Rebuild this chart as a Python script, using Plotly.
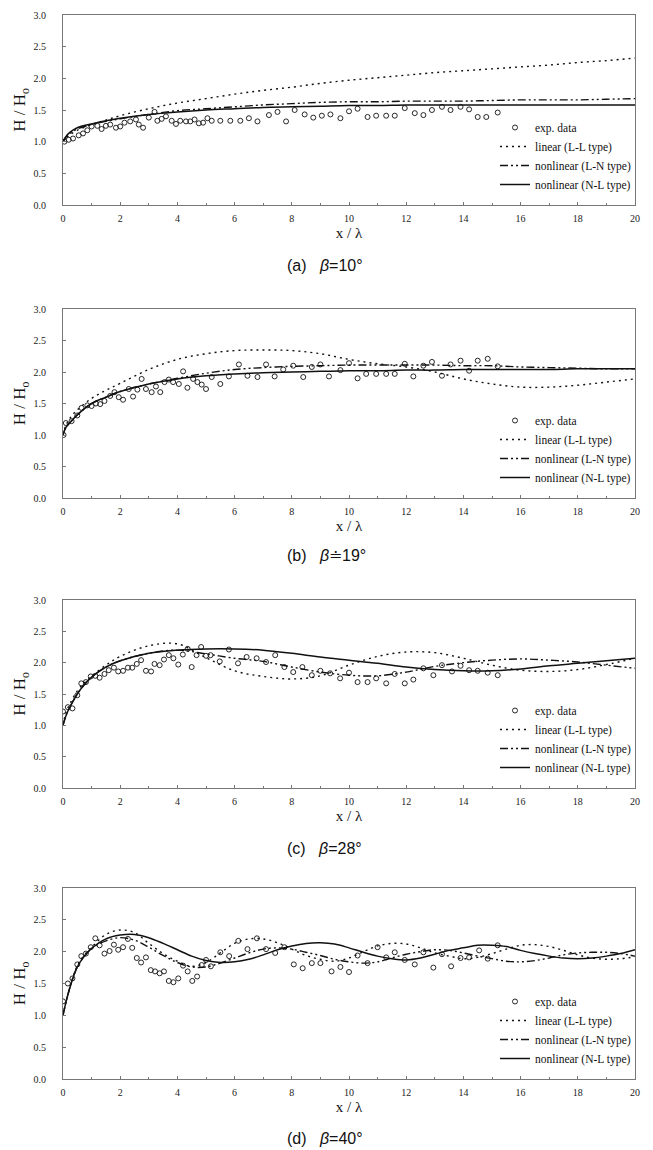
import plotly.graph_objects as go

# ---------------- data ----------------
# panel (a) beta = 10 deg
xa_exp = [0.05,0.2,0.35,0.55,0.7,0.85,1.0,1.2,1.35,1.5,
          1.65,1.85,2.0,2.15,2.35,2.55,2.65,2.8,3.0,3.2,
          3.3,3.45,3.6,3.8,3.95,4.1,4.3,4.45,4.6,4.75,
          4.9,5.05,5.2,5.5,5.85,6.2,6.5,6.8,7.2,7.5,
          7.8,8.1,8.45,8.75,9.05,9.35,9.7,10.0,10.3,10.65,
          10.95,11.3,11.6,11.95,12.3,12.6,12.9,13.25,13.55,13.9,
          14.2,14.5,14.8,15.2]
ya_exp = [1.0,1.03,1.05,1.1,1.13,1.18,1.24,1.25,1.2,1.25,
          1.27,1.22,1.24,1.3,1.32,1.35,1.27,1.22,1.38,1.47,
          1.33,1.36,1.4,1.33,1.28,1.33,1.32,1.32,1.35,1.29,
          1.3,1.37,1.33,1.33,1.33,1.33,1.37,1.32,1.42,1.47,
          1.32,1.5,1.43,1.38,1.41,1.43,1.37,1.48,1.52,1.39,
          1.41,1.41,1.41,1.53,1.45,1.42,1.5,1.55,1.5,1.55,
          1.51,1.39,1.39,1.46]
xa_mod = [0,0.1,0.25,0.5,1,1.5,2,3,4,5,6,7,8,9,10,11,12,13,14,15,16,17,18,19,20]
ya_LL = [1.0,1.05,1.11,1.18,1.27,1.34,1.41,1.52,1.61,1.68,1.75,1.81,1.86,1.92,1.97,2.01,2.05,2.09,2.12,2.15,2.18,2.21,2.25,2.28,2.32]
ya_LN = [1.0,1.07,1.13,1.2,1.27,1.32,1.36,1.43,1.49,1.52,1.55,1.58,1.6,1.62,1.63,1.63,1.64,1.64,1.64,1.65,1.66,1.66,1.66,1.67,1.68]
ya_NL = [1.0,1.08,1.15,1.22,1.28,1.33,1.37,1.43,1.47,1.5,1.52,1.54,1.55,1.56,1.57,1.57,1.58,1.58,1.58,1.58,1.58,1.58,1.58,1.58,1.58]

# panel (b) beta = 19 deg
xb_exp = [0.02,0.1,0.3,0.5,0.65,0.85,1.0,1.15,1.3,1.45,
          1.65,1.8,1.95,2.1,2.3,2.45,2.6,2.75,2.9,3.1,
          3.25,3.4,3.55,3.7,3.85,4.05,4.2,4.35,4.55,4.7,
          4.85,5.0,5.2,5.5,5.8,6.15,6.45,6.8,7.1,7.4,
          7.7,8.05,8.4,8.7,9.0,9.3,9.7,10.0,10.3,10.6,
          10.95,11.3,11.6,11.95,12.25,12.6,12.9,13.25,13.55,13.9,
          14.2,14.5,14.85,15.2]
yb_exp = [1.0,1.19,1.22,1.31,1.43,1.47,1.46,1.5,1.49,1.54,
          1.62,1.68,1.6,1.56,1.73,1.61,1.72,1.89,1.73,1.68,
          1.77,1.68,1.84,1.88,1.84,1.81,2.01,1.75,1.89,1.84,
          1.8,1.73,1.92,1.81,1.93,2.12,1.94,1.92,2.12,1.93,
          2.04,2.1,1.92,2.08,2.12,1.93,2.03,2.14,1.9,1.97,
          1.97,1.97,1.97,2.13,1.93,2.1,2.16,1.94,2.12,2.18,
          2.02,2.18,2.21,2.09]
xb_mod = [0,0.1,0.25,0.5,1,1.5,2,3,4,5,6,7,8,9,10,11,12,13,14,15,16,17,18,19,20]
yb_LL = [1.0,1.15,1.27,1.4,1.58,1.71,1.82,2.04,2.2,2.29,2.34,2.35,2.34,2.29,2.2,2.13,2.08,2.0,1.89,1.81,1.76,1.76,1.79,1.84,1.89]
yb_LN = [1.0,1.12,1.2,1.32,1.5,1.6,1.69,1.81,1.9,1.98,2.04,2.07,2.09,2.1,2.11,2.11,2.11,2.11,2.1,2.1,2.08,2.07,2.06,2.05,2.05]
yb_NL = [1.0,1.12,1.2,1.32,1.5,1.6,1.69,1.81,1.89,1.94,1.97,1.99,2.0,2.01,2.02,2.02,2.03,2.03,2.04,2.04,2.04,2.04,2.05,2.05,2.05]

# panel (c) beta = 28 deg
xc_exp = [0.0,0.17,0.33,0.5,0.64,0.8,0.97,1.13,1.28,1.45,
          1.6,1.78,1.93,2.1,2.27,2.42,2.58,2.73,2.9,3.08,
          3.2,3.38,3.53,3.7,3.86,4.03,4.19,4.36,4.5,4.67,
          4.83,5.0,5.16,5.48,5.8,6.12,6.42,6.77,7.1,7.42,
          7.74,8.05,8.37,8.7,9.0,9.34,9.69,10.0,10.3,10.65,
          10.95,11.3,11.6,11.95,12.25,12.6,12.95,13.25,13.6,13.9,
          14.2,14.5,14.85,15.2]
yc_exp = [1.22,1.29,1.27,1.48,1.67,1.69,1.78,1.79,1.76,1.82,
          1.88,1.92,1.86,1.87,1.92,1.92,1.98,2.04,1.87,1.86,
          1.98,1.96,2.05,2.12,2.07,1.97,2.13,2.22,1.93,2.12,
          2.25,2.11,2.12,2.02,2.21,1.99,2.09,2.07,2.01,2.12,
          1.93,1.85,1.93,1.8,1.87,1.83,1.75,1.84,1.69,1.69,
          1.75,1.67,1.82,1.67,1.73,1.91,1.8,1.96,1.86,1.95,
          1.88,1.87,1.84,1.8]
xc_mod = [0,0.1,0.25,0.5,0.75,1,1.5,2,3,4,5,6,7,8,9,10,11,12,13,14,15,16,17,18,19,20]
yc_LL = [1.0,1.2,1.35,1.55,1.68,1.78,1.96,2.1,2.27,2.3,2.08,1.87,1.78,1.74,1.79,1.96,2.1,2.17,2.16,2.07,1.96,1.88,1.86,1.89,1.97,2.07]
yc_LN = [1.0,1.15,1.3,1.5,1.65,1.77,1.93,2.03,2.15,2.2,2.14,2.07,2.02,1.93,1.85,1.8,1.79,1.85,1.94,2.0,2.04,2.06,2.04,2.01,1.96,1.91]
yc_NL = [1.0,1.15,1.3,1.5,1.65,1.77,1.93,2.03,2.15,2.2,2.22,2.22,2.2,2.15,2.09,2.04,1.99,1.93,1.89,1.87,1.87,1.9,1.95,1.99,2.03,2.07]

# panel (d) beta = 40 deg
xd_exp = [0.0,0.17,0.33,0.5,0.64,0.8,0.97,1.13,1.28,1.45,
          1.63,1.78,1.93,2.1,2.27,2.42,2.58,2.73,2.9,3.07,
          3.22,3.38,3.53,3.7,3.86,4.03,4.2,4.36,4.52,4.69,
          4.85,5.0,5.17,5.5,5.81,6.13,6.45,6.78,7.1,7.42,
          7.74,8.07,8.38,8.7,9.0,9.39,9.7,10.0,10.3,10.65,
          11.0,11.3,11.6,11.95,12.3,12.6,12.95,13.25,13.57,13.9,
          14.2,14.55,14.85,15.2]
yd_exp = [1.22,1.5,1.58,1.8,1.93,1.97,2.07,2.21,2.1,1.97,
          2.01,2.11,2.03,2.07,2.2,2.06,1.9,1.83,1.91,1.71,
          1.69,1.66,1.69,1.54,1.52,1.58,1.78,1.69,1.54,1.61,
          1.79,1.87,1.77,1.99,1.93,2.17,2.04,2.21,2.04,1.98,
          2.07,1.8,1.74,1.82,1.82,1.69,1.76,1.68,1.94,1.82,
          2.07,1.91,1.99,1.87,1.8,1.99,1.75,1.96,1.77,1.9,
          1.91,2.02,1.89,2.1]
xd_mod = [0,0.1,0.25,0.5,0.75,1.0,1.5,2.0,2.5,3.0,3.5,4.0,4.5,5.0,5.5,6.0,6.5,7.0,7.5,8.0,
          8.5,9.0,9.5,10.0,10.5,11.0,11.5,12.0,12.5,13.0,13.5,14.0,14.5,15.0,15.5,16.0,16.5,
          17.0,17.5,18.0,18.5,19.0,19.5,20.0]
yd_LL = [1.0,1.2,1.45,1.78,1.95,2.07,2.27,2.34,2.3,2.13,1.97,1.85,1.77,1.83,1.98,2.13,2.2,2.2,2.14,2.04,
         1.94,1.88,1.85,1.9,2.0,2.09,2.13,2.12,2.06,1.98,1.93,1.89,1.91,1.97,2.04,2.1,2.11,
         2.08,2.02,1.95,1.9,1.88,1.89,1.92]
yd_LN = [1.0,1.2,1.45,1.76,1.93,2.05,2.17,2.22,2.18,2.07,1.94,1.83,1.76,1.76,1.82,1.9,1.98,2.04,2.06,2.04,
         1.99,1.94,1.88,1.84,1.82,1.84,1.9,1.96,2.0,2.03,2.02,1.98,1.93,1.89,1.85,1.84,1.86,
         1.9,1.95,1.98,1.99,1.99,1.97,1.93]
yd_NL = [1.0,1.2,1.45,1.76,1.93,2.05,2.2,2.26,2.27,2.22,2.13,2.03,1.93,1.86,1.83,1.84,1.88,1.95,2.03,2.09,
         2.13,2.14,2.12,2.06,1.99,1.93,1.89,1.87,1.9,1.96,2.02,2.06,2.1,2.1,2.08,2.02,1.97,
         1.93,1.9,1.89,1.9,1.93,1.97,2.03]

captions = ["(a)", "(b)", "(c)", "(d)"]
beta_text = ["=10°", "≐19°", "=28°", "=40°"]
legend_names = ["exp. data", "linear (L-L type)", "nonlinear (L-N type)", "nonlinear (N-L type)"]
y_ticks = [0.0, 0.5, 1.0, 1.5, 2.0, 2.5, 3.0]
x_ticks = [0, 2, 4, 6, 8, 10, 12, 14, 16, 18, 20]

panels = [
    (xa_exp, ya_exp, xa_mod, ya_LL, ya_LN, ya_NL),
    (xb_exp, yb_exp, xb_mod, yb_LL, yb_LN, yb_NL),
    (xc_exp, yc_exp, xc_mod, yc_LL, yc_LN, yc_NL),
    (xd_exp, yd_exp, xd_mod, yd_LL, yd_LN, yd_NL),
]

# ---------------- layout geometry (pixels) ----------------
# the page body adds an 8px margin, so the figure is 8px smaller and offset
OFF = 8
W, H = 653 - OFF, 1150 - OFF
ML, MR, MT, MB = 63 - OFF, 18, 15 - OFF, 71
plot_h = H - MT - MB
panel_px = [(15, 205), (309, 498), (600, 788), (888, 1079)]
caption_px = [265, 556, 848, 1138]

def fy(py):
    return (H - MB - (py - OFF)) / plot_h

def fx(px):
    return (px - OFF - ML) / (W - ML - MR)

SERIF = "Liberation Serif"
fig = go.Figure()

for i, (xe, ye, xm, yLL, yLN, yNL) in enumerate(panels):
    n = "" if i == 0 else str(i + 1)
    xa = "x" + n
    ya = "y" + n
    lg = "legend" + n
    fig.add_trace(go.Scatter(x=xe, y=ye, mode="markers", name=legend_names[0],
                             xaxis=xa, yaxis=ya, legend=lg,
                             marker=dict(symbol="circle-open", size=5, color="#111",
                                         line=dict(width=0.9, color="#111"))))
    fig.add_trace(go.Scatter(x=xm, y=yLL, mode="lines", name=legend_names[1],
                             xaxis=xa, yaxis=ya, legend=lg, line_shape="spline",
                             line=dict(color="#111", width=1.4, dash="2px,4px")))
    fig.add_trace(go.Scatter(x=xm, y=yLN, mode="lines", name=legend_names[2],
                             xaxis=xa, yaxis=ya, legend=lg, line_shape="spline",
                             line=dict(color="#111", width=1.4, dash="8px,3px,2px,3px,2px,3px")))
    fig.add_trace(go.Scatter(x=xm, y=yNL, mode="lines", name=legend_names[3],
                             xaxis=xa, yaxis=ya, legend=lg, line_shape="spline",
                             line=dict(color="#111", width=1.5)))

    top, bot = panel_px[i]
    axis_common = dict(showline=True, linecolor="#777", linewidth=1, mirror=True,
                       showgrid=False, zeroline=False, ticks="inside", ticklen=3,
                       tickcolor="#777", tickfont=dict(family=SERIF, size=10, color="#222"))
    fig.layout["xaxis" + n] = dict(
        domain=[0, 1], anchor=ya, range=[0, 20], tickmode="array", tickvals=x_ticks,
        minor=dict(dtick=1, ticks="inside", ticklen=2, tickcolor="#777"),
        ticklabelstandoff=4,
        title=dict(text="x / λ", font=dict(family=SERIF, size=15, color="#111"), standoff=4),
        **axis_common)
    fig.layout["yaxis" + n] = dict(
        domain=[fy(bot), fy(top)], anchor=xa, range=[0, 3], tickmode="array",
        tickvals=y_ticks, tickformat=".1f", ticklabelstandoff=14,
        title=dict(text="H / H<sub>o</sub>", font=dict(family=SERIF, size=17, color="#111"), standoff=3),
        **axis_common)
    fig.layout[lg] = dict(
        x=fx(636), xanchor="right", y=fy(bot - 6), yanchor="bottom",
        bgcolor="rgba(0,0,0,0)", borderwidth=0, itemwidth=30, tracegroupgap=0,
        font=dict(family=SERIF, size=11.5, color="#111"))

    fig.add_annotation(
        xref="paper", yref="paper", x=fx(285), y=fy(caption_px[i]),
        xanchor="left", yanchor="middle", showarrow=False,
        text=captions[i] + "&nbsp;&nbsp;&nbsp;<i>β</i>" + beta_text[i],
        font=dict(family="Liberation Sans", size=16, color="#111"))

fig.update_layout(
    width=W, height=H, margin=dict(l=ML, r=MR, t=MT, b=MB, autoexpand=False),
    paper_bgcolor="white", plot_bgcolor="white", showlegend=True,
    font=dict(family=SERIF, color="#111"))

fig.write_html("out.html")
